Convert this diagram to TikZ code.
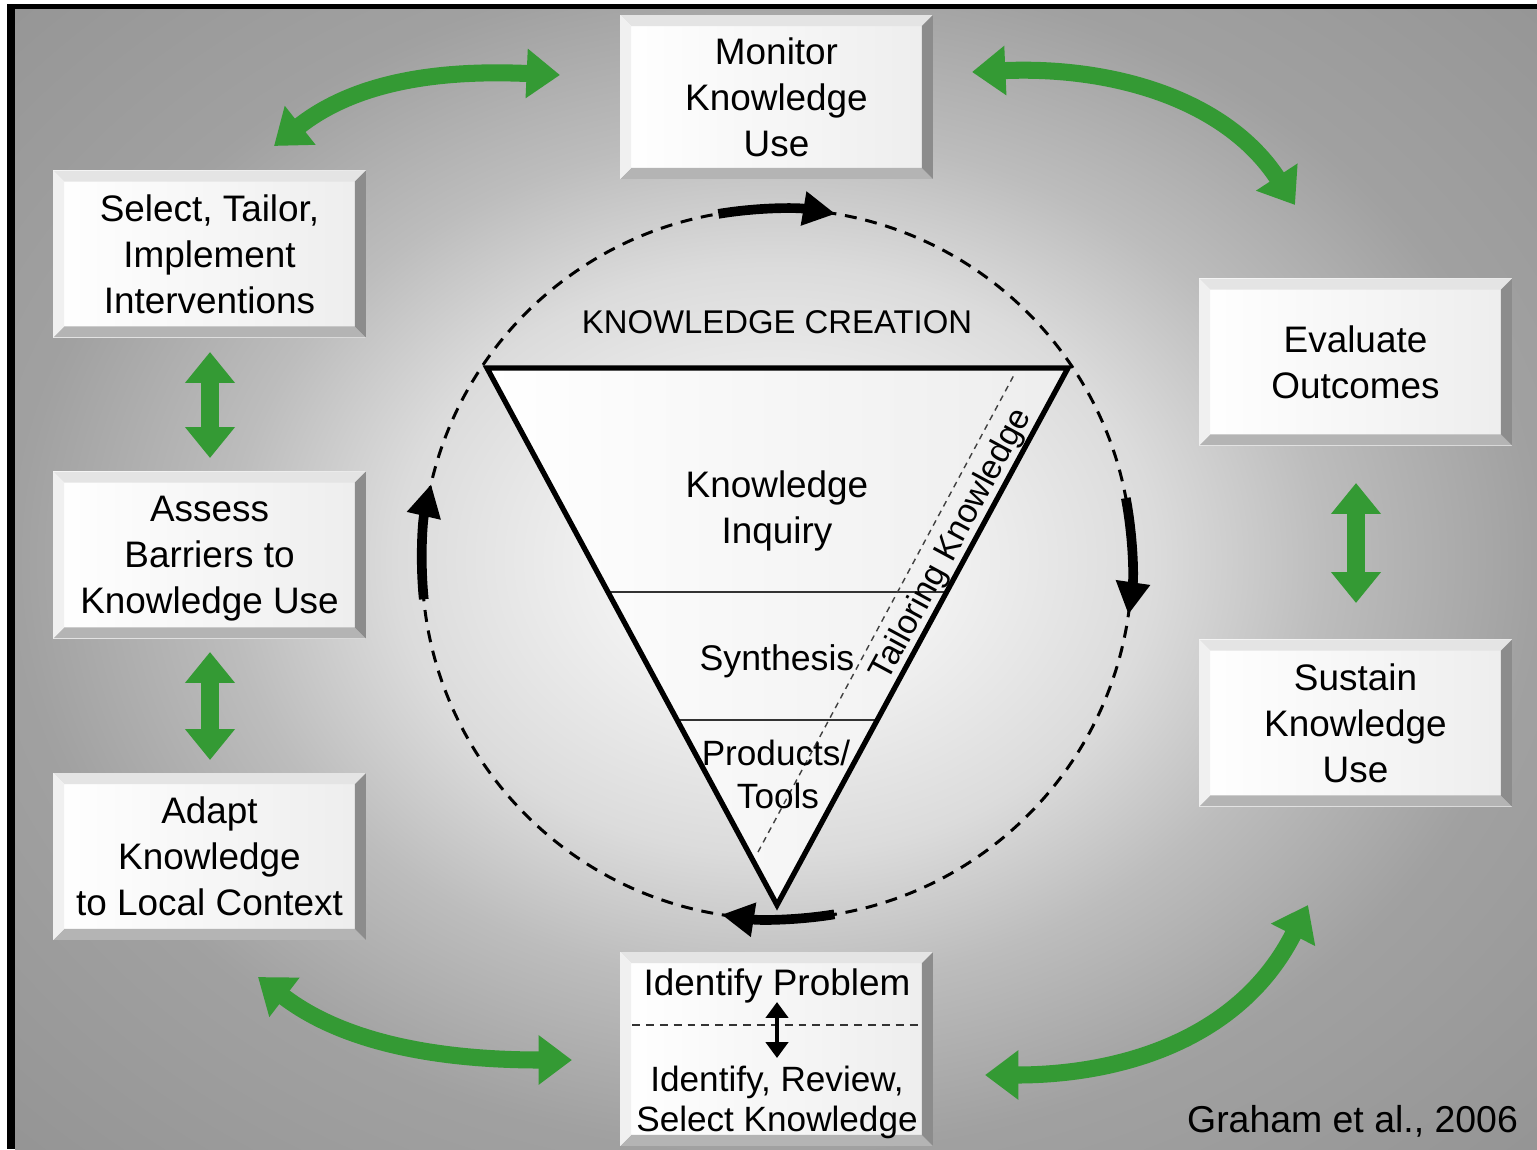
\documentclass[tikz,border=0pt]{standalone}
\usepackage{fontspec}
\setmainfont{Liberation Sans}
\usetikzlibrary{arrows.meta,calc}

\definecolor{kgreen}{RGB}{52,154,52}
\definecolor{bevtop}{RGB}{228,228,228}
\definecolor{bevleft}{RGB}{240,240,240}
\definecolor{bevright}{RGB}{140,140,140}
\definecolor{bevbottom}{RGB}{180,180,180}

% soft light halo behind the cycle (25bp reaches the edge of the shaded box)
\pgfdeclareradialshading{halo}{\pgfpointorigin}{%
  color(0bp)=(black!3); color(6bp)=(black!6); color(12.5bp)=(black!14);
  color(18bp)=(black!26); color(25bp)=(black!37); color(36bp)=(black!42); color(50bp)=(black!42)}

\newcommand\kfont{\fontsize{21}{26.2}\selectfont}
\newcommand\kfontsm{\fontsize{20}{23}\selectfont}

\tikzset{
  kbox/.style={rectangle, inner sep=0pt, minimum width=6.26cm, minimum height=3.34cm,
    left color=white, right color=black!7, align=center, font=\kfont, text depth=0pt,
    path picture={
      \fill[bevtop] (path picture bounding box.north west) -- (path picture bounding box.north east)
        -- ([xshift=-0.22cm,yshift=-0.22cm]path picture bounding box.north east)
        -- ([xshift=0.22cm,yshift=-0.22cm]path picture bounding box.north west) -- cycle;
      \fill[bevbottom] (path picture bounding box.south west) -- (path picture bounding box.south east)
        -- ([xshift=-0.22cm,yshift=0.22cm]path picture bounding box.south east)
        -- ([xshift=0.22cm,yshift=0.22cm]path picture bounding box.south west) -- cycle;
      \fill[bevleft] (path picture bounding box.north west) -- (path picture bounding box.south west)
        -- ([xshift=0.22cm,yshift=0.22cm]path picture bounding box.south west)
        -- ([xshift=0.22cm,yshift=-0.22cm]path picture bounding box.north west) -- cycle;
      \fill[bevright] (path picture bounding box.north east) -- (path picture bounding box.south east)
        -- ([xshift=-0.22cm,yshift=0.22cm]path picture bounding box.south east)
        -- ([xshift=-0.22cm,yshift=-0.22cm]path picture bounding box.north east) -- cycle;
    }},
  garrow/.style={draw=kgreen, line width=9.7pt,
    {Triangle[length=19pt, width=27pt]}-{Triangle[length=19pt, width=27pt]}},
  vgarrow/.style={draw=kgreen, line width=10.2pt,
    {Triangle[length=17.6pt, width=27.3pt]}-{Triangle[length=17.6pt, width=27.3pt]}},
  carrow/.style={draw=black, line width=5.5pt, -{Triangle[length=18.5pt, width=18.5pt]}},
  txt/.style={anchor=base, inner sep=0pt},
}

\begin{document}
\begin{tikzpicture}[x=0.02cm, y=-0.02cm]
\useasboundingbox (0,0) rectangle (1537,1149);

% frame and background
\fill[white] (0,0) rectangle (1537,1149);
\fill[black] (7,4) rectangle (1537,1149);
\begin{scope}
  \clip (15,10) rectangle (1537,1149);
  \shade[shading=halo] (15,-30) rectangle (1537,1150);
\end{scope}

% knowledge creation funnel
\coordinate (tl) at (487,368);
\coordinate (tr) at (1068,368);
\coordinate (ap) at (777,905);
\fill[left color=white, right color=black!7] (tl) -- (tr) -- (ap) -- cycle;
\draw[line width=1.1pt, black!80] ($(tl)!0.4171!(ap)$) -- ($(tr)!0.4171!(ap)$);
\draw[line width=1.1pt, black!80] ($(tl)!0.6555!(ap)$) -- ($(tr)!0.6555!(ap)$);
\coordinate (tka) at (758,852);
\coordinate (tkb) at (1014,375);
\draw[line width=0.8pt, black!75, dash pattern=on 3.4pt off 2.8pt] (tka) -- (tkb);
\draw[line width=3pt, line join=miter] (tl) -- (tr) -- (ap) -- cycle;

\node[txt, font=\fontsize{18.7}{22}\selectfont] (kc) at (777,333) {KNOWLEDGE CREATION};
\node[txt, font=\kfont] (kn1) at (777,497) {Knowledge};
\node[txt, font=\kfont] (kn2) at (777,543) {Inquiry};
\node[txt, font=\fontsize{20.3}{24}\selectfont] (syn) at (777,670) {Synthesis};
\node[txt, font=\fontsize{20}{24}\selectfont] (prod) at (776,765) {Products/};
\node[txt, font=\fontsize{20}{24}\selectfont] (tools) at (778,808) {Tools};
\node[font=\fontsize{19.3}{22}\selectfont, rotate=61.6, inner sep=0pt] (tail) at (952,545) {Tailoring Knowledge};

% action cycle around the funnel
\coordinate (cc) at (777,564);
\draw[line width=1.7pt, dash pattern=on 6.8pt off 5pt] (cc) circle[radius=355];
\draw[carrow] ($(cc)+(-99.5:355)$) arc[start angle=-99.5, end angle=-80.5, radius=355];
\draw[carrow] ($(cc)+(-10.7:355)$) arc[start angle=-10.7, end angle=8.2, radius=355];
\draw[carrow] ($(cc)+(80.7:355)$) arc[start angle=80.7, end angle=99, radius=355];
\draw[carrow] ($(cc)+(174.3:355)$) arc[start angle=174.3, end angle=193, radius=355];

% phase boxes
\node[kbox, minimum height=3.28cm] (monitor) at (776.5,97) {Monitor\\Knowledge\\Use};
\node[kbox] (select) at (209.5,254) {Select, Tailor,\\Implement\\Interventions};
\node[kbox] (assess) at (209.5,555) {Assess\\Barriers to\\Knowledge Use};
\node[kbox] (adapt) at (209.5,856.5) {Adapt\\Knowledge\\to Local Context};
\node[kbox] (evaluate) at (1355.5,362) {Evaluate\\Outcomes};
\node[kbox] (sustain) at (1355.5,723) {Sustain\\Knowledge\\Use};
\node[kbox, minimum height=3.88cm] (identify) at (776.5,1049) {};

\node[txt, font=\kfont] (prob) at (777,995) {Identify Problem};
\draw[line width=1.1pt, black!80, dash pattern=on 4.5pt off 3.4pt] (632,1025) -- (922,1025);
\node[txt, font=\kfontsm] (review) at (777,1091) {Identify, Review,};
\node[txt, font=\kfontsm] (selk) at (777,1131) {Select Knowledge};
\coordinate (pa) at (777,1002);
\coordinate (pb) at (777,1058);
\draw[line width=2.8pt, {Triangle[length=9pt, width=12.5pt]}-{Triangle[length=9pt, width=12.5pt]}] (pa) -- (pb);

% green links between phases
\coordinate (g1a) at (274,146);  \coordinate (g1b) at (560,75);
\coordinate (g2a) at (972,72);   \coordinate (g2b) at (1295,205);
\coordinate (g3a) at (258,977);  \coordinate (g3b) at (572,1060);
\coordinate (g4a) at (985,1075); \coordinate (g4b) at (1308,905);
\draw[garrow] (g1a) .. controls (360,78) and (450,70) .. (g1b);
\draw[garrow] (g2a) .. controls (1110,66) and (1225,98) .. (g2b);
\draw[garrow] (g3a) .. controls (340,1040) and (430,1060) .. (g3b);
\draw[garrow] (g4a) .. controls (1120,1075) and (1240,1040) .. (g4b);

\coordinate (v1a) at (210,352);  \coordinate (v1b) at (210,458);
\coordinate (v2a) at (210,652);  \coordinate (v2b) at (210,760);
\coordinate (v3a) at (1356,483); \coordinate (v3b) at (1356,603);
\draw[vgarrow] (v1a) -- (v1b);
\draw[vgarrow] (v2a) -- (v2b);
\draw[vgarrow] (v3a) -- (v3b);

\node[txt, font=\fontsize{21.3}{25}\selectfont] (cite) at (1352.5,1132) {Graham et al., 2006};
\end{tikzpicture}
\end{document}
